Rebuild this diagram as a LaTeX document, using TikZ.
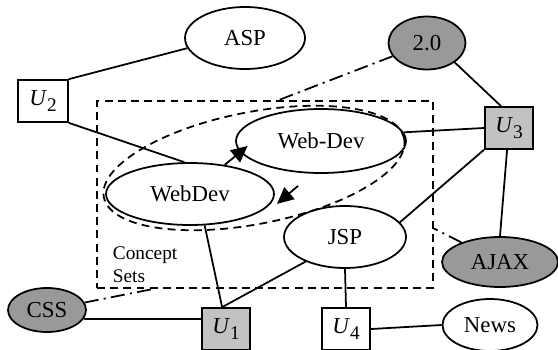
\documentclass[tikz,border=0pt]{standalone}
\usepackage{fontspec}
\setmainfont{Liberation Serif}
\usetikzlibrary{shapes.geometric,arrows.meta,calc}

\definecolor{darkfill}{gray}{0.6}
\definecolor{lightfill}{gray}{0.76}
\newcommand{\Uname}[1]{\textit{U}\raisebox{-3pt}{\fontsize{11}{11}\selectfont #1}}

\begin{document}
\begin{tikzpicture}[x=0.02cm,y=-0.02cm,line width=1pt,font=\fontsize{13}{15}\selectfont]
    \tikzset{conc/.style={draw,ellipse,inner sep=0pt},
        tag/.style={conc,fill=darkfill},
        usr/.style={draw,rectangle,inner sep=0pt,minimum width=0.97cm,minimum height=0.84cm},
        usrg/.style={usr,fill=lightfill},
        dashline/.style={dash pattern=on 4.5pt off 3pt},
        dashdot/.style={dash pattern=on 8pt off 3pt on 1.2pt off 3pt},
        big/.style={-{Triangle[length=3.3mm,width=3.1mm]}}}

    \useasboundingbox (0,0) rectangle (558,349);

    % concept set box and the two merged concepts
    \node[draw,dashline,inner sep=0pt,minimum width=6.72cm,minimum height=3.74cm] (sets) at (265,194.5) {};
    \node[conc,minimum width=3.4cm,minimum height=1.28cm] (wdash) at (321,141) {Web-Dev};
    \node[conc,minimum width=3.36cm,minimum height=1.24cm] (wdev) at (190,194) {WebDev};
    \draw[dashline,rotate around={11:(254,168)}] (254,168) ellipse [x radius=3.06cm,y radius=1.12cm];
    \node[anchor=west,align=left,inner sep=0pt,font=\fontsize{11}{13}\selectfont] (label) at (112,265) {Concept\\Sets};

    % other concepts
    \node[conc,minimum width=2.4cm,minimum height=1.24cm] (asp) at (245,38) {ASP};
    \node[conc,minimum width=2.44cm,minimum height=1.24cm] (jsp) at (345,237) {JSP};
    \node[conc,minimum width=1.9cm,minimum height=1.04cm] (news) at (490,325) {News};
    \node[tag,minimum width=1.54cm,minimum height=1.06cm] (two) at (427,43) {2.0};
    \node[tag,minimum width=2.32cm,minimum height=1cm] (ajax) at (500,262) {AJAX};
    \node[tag,minimum width=1.56cm,minimum height=0.88cm] (css) at (47,310) {CSS};

    % users
    \node[usr,minimum width=1cm] (u2) at (43,101) {\Uname{2}};
    \node[usrg] (u3) at (509,128) {\Uname{3}};
    \node[usrg] (u1) at (226,329) {\Uname{1}};
    \node[usr] (u4) at (346,329) {\Uname{4}};

    \draw (u2.north east) -- (asp.190);
    \draw (u2.south east) -- (wdev.100);
    \draw (two.-35) -- (u3.110);
    \draw (u3.west) -- (wdash.6);
    \draw (u3.-95) -- (ajax.north);
    \draw (u3.south west) -- (jsp.15);
    \draw (wdev.-65) -- (u1.100);
    \draw (jsp.212) -- (u1.100);
    \draw (jsp.south) -- (u4.north);
    \draw (css.-14) -- (u1.west |- css.-14);
    \draw (u4.east) -- (news.west);

    \draw[dashdot] (two) -- ($(sets.north west)!0.54!(sets.north east)$);
    \draw[dashdot] (css) -- ($(sets.south west)!0.17!(sets.south east)$);
    \draw[dashdot] (ajax) -- ($(sets.north east)!0.68!(sets.south east)$);

    \draw[big] (wdev.40) -- ++(23,-19);
    \draw[big] ([shift={(-23,12)}]wdash.south) -- ++(-21,18);
\end{tikzpicture}
\end{document}
